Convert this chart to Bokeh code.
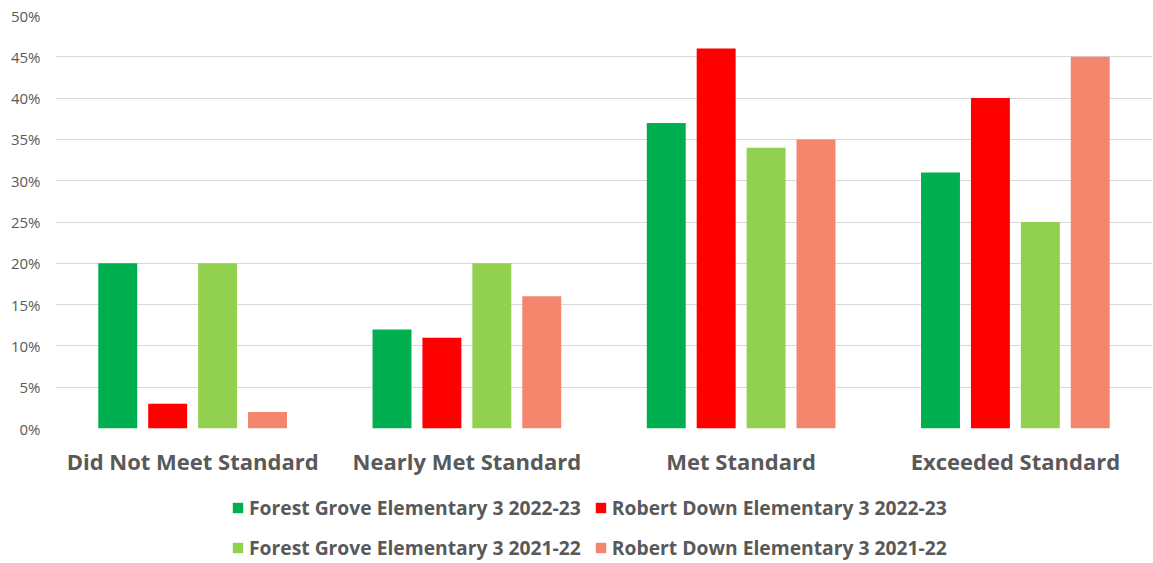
from bokeh.plotting import figure
from bokeh.layouts import column
from bokeh.models import ColumnDataSource, FactorRange, Range1d, Legend, LegendItem, PrintfTickFormatter, FixedTicker
from bokeh.transform import dodge
from bokeh.embed import file_html
from bokeh.resources import INLINE

categories = ["Did Not Meet Standard", "Nearly Met Standard", "Met Standard", "Exceeded Standard"]
series_names = ["Forest Grove Elementary 3 2022-23", "Robert Down Elementary 3 2022-23",
                "Forest Grove Elementary 3 2021-22", "Robert Down Elementary 3 2021-22"]
forest_2223 = [20, 12, 37, 31]
robert_2223 = [3, 11, 46, 40]
forest_2122 = [20, 20, 34, 25]
robert_2122 = [2, 16, 35, 45]
colors = ["#00B050", "#FF0000", "#92D050", "#F4866E"]
y_ticks = [0, 5, 10, 15, 20, 25, 30, 35, 40, 45, 50]

source = ColumnDataSource(dict(cat=categories, s0=forest_2223, s1=robert_2223, s2=forest_2122, s3=robert_2122))
keys = ["s0", "s1", "s2", "s3"]

FONT = "Open Sans"
GRAY = "#595959"

xr = FactorRange(*categories, range_padding=0)
p = figure(x_range=xr, y_range=(0, 50),
           width=1153, height=478, output_backend="svg", toolbar_location=None,
           min_border_left=55, min_border_right=1, min_border_top=15, min_border_bottom=0)

for i, key in enumerate(keys):
    p.vbar(x=dodge("cat", (i - 1.5) * 0.182, range=xr), top=key, width=0.142,
           source=source, color=colors[i], line_color=None)

p.outline_line_color = None
p.xgrid.grid_line_color = None
p.ygrid.grid_line_color = "#D9D9D9"
p.ygrid.grid_line_width = 1

p.yaxis.ticker = FixedTicker(ticks=y_ticks)
p.yaxis.formatter = PrintfTickFormatter(format="%d%%")
p.yaxis.axis_line_color = None
p.yaxis.major_tick_line_color = None
p.yaxis.minor_tick_line_color = None
p.yaxis.major_label_text_font = FONT
p.yaxis.major_label_text_font_size = "15px"
p.yaxis.major_label_text_color = GRAY
p.yaxis.major_label_standoff = 9

p.xaxis.axis_line_color = None
p.xaxis.major_tick_line_color = None
p.xaxis.major_label_text_font = FONT
p.xaxis.major_label_text_font_size = "22px"
p.xaxis.major_label_text_font_style = "bold"
p.xaxis.major_label_text_color = GRAY
p.xaxis.major_label_standoff = 11

# legend strip below the chart: its zero-height bars lie far below its own view,
# so only the legend glyphs show
p2 = figure(width=1153, height=85, x_range=xr, y_range=Range1d(1000, 1010), output_backend="svg",
            toolbar_location=None, min_border=0)
p2.xaxis.visible = False
p2.yaxis.visible = False
p2.grid.grid_line_color = None
p2.outline_line_color = None
leg_renderers = [p2.vbar(x=dodge("cat", (i - 1.5) * 0.182, range=xr), top=key, bottom=key, width=0.142,
                         source=source, color=colors[i], line_color=None)
                 for i, key in enumerate(keys)]

legend = Legend(items=[LegendItem(label=series_names[i], renderers=[leg_renderers[i]]) for i in range(4)],
                orientation="horizontal", nrows=2, location=(176, 2),
                label_text_font=FONT, label_text_font_size="19.3px", label_text_color=GRAY,
                label_text_font_style="bold",
                glyph_width=13, glyph_height=13, label_standoff=5, spacing=13,
                label_height=27, padding=0, margin=0, border_line_color=None,
                background_fill_alpha=0)
p2.add_layout(legend, "center")

open("out.html", "w").write(file_html(column(p, p2, spacing=0), INLINE))
